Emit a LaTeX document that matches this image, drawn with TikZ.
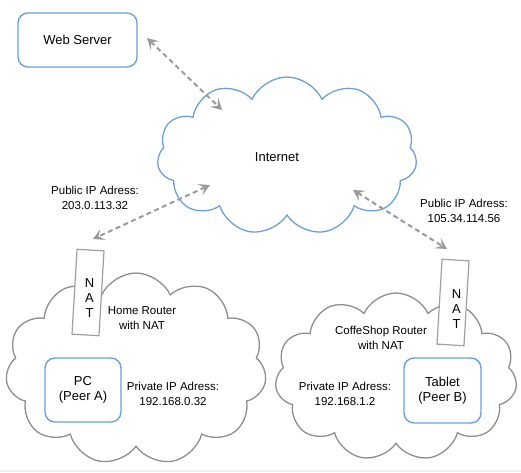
\documentclass[tikz,border=0pt]{standalone}
\usepackage{fontspec}
\setmainfont{Liberation Sans}
\usetikzlibrary{shapes.symbols,arrows.meta,calc}
\definecolor{boxblue}{HTML}{6CA0DC}
\definecolor{cloudgray}{HTML}{8E8E8E}
\definecolor{natgray}{HTML}{A0A0A0}
\definecolor{arrowgray}{HTML}{9A9A9A}
\begin{document}
\begin{tikzpicture}[x=1pt,y=-1pt,
  devbox/.style={draw=boxblue, line width=1.4pt, rounded corners=10pt, fill=white,
    align=center, font=\fontsize{13}{15}\selectfont, inner sep=0pt},
  netcloud/.style={cloud, draw=boxblue, line width=1.3pt, cloud puffs=11, cloud puff arc=130,
    cloud ignores aspect, inner sep=0pt, fill=white},
  lancloud/.style={cloud, draw=cloudgray, line width=1.3pt, cloud puffs=11, cloud puff arc=130,
    cloud ignores aspect, inner sep=0pt, fill=white},
  natbox/.style={draw=natgray, line width=1.2pt, fill=white, minimum width=27pt,
    minimum height=85pt, inner sep=0pt, rotate=-3.4},
  nattext/.style={align=center, font=\fontsize{13}{15}\selectfont},
  lbl/.style={align=center, font=\fontsize{11.5}{14.5}\selectfont},
  link/.style={draw=arrowgray, line width=2pt, dash pattern=on 5pt off 3.5pt,
    {Stealth[length=11pt,width=12pt,inset=5pt]}-{Stealth[length=11pt,width=12pt,inset=5pt]}}
]
\useasboundingbox (0,0) rectangle (521,472);
\fill[gray!12] (0,470) rectangle (521,472);

% clouds
\node[netcloud, minimum width=260pt, minimum height=158pt] (inet) at (287,156) {};
\node[font=\fontsize{13}{15}\selectfont] (inettext) at (277,157) {Internet};
\node[lancloud, minimum width=261pt, minimum height=192pt] (home) at (136,369) {};
\node[lancloud, minimum width=242pt, minimum height=168pt] (coffee) at (396,377) {};

% web server
\node[devbox, minimum width=119pt, minimum height=54pt] (ws) at (77.5,40) {Web Server};

% NAT boxes
\node[natbox] (hnat) at (88,292.5) {};
\node[nattext] (hnattext) at (89.5,298) {N\\A\\T};
\node[natbox] (cnat) at (453,302.5) {};
\node[nattext] (cnattext) at (456.5,309) {N\\A\\T};

% devices
\node[devbox, minimum width=76pt, minimum height=64pt] (pc) at (83,390) {PC\\(Peer A)};
\node[devbox, minimum width=77pt, minimum height=65pt] (tab) at (442.5,390.5) {Tablet\\(Peer B)};

% labels
\node[lbl] (hrouter) at (142,318) {Home Router\\with NAT};
\node[lbl] (hpriv) at (173,394) {Private IP Adress:\\192.168.0.32};
\node[lbl] (crouter) at (381,338) {CoffeShop Router\\with NAT};
\node[lbl] (cpriv) at (345,394) {Private IP Adress:\\192.168.1.2};
\node[lbl] (hpub) at (95,198) {Public IP Adress:\\203.0.113.32};
\node[lbl] (cpub) at (464,211) {Public IP Adress:\\105.34.114.56};

% connector ends
\coordinate (wsend) at (147,38);
\coordinate (inetA) at (222,110);
\coordinate (inetB) at (210,185);
\coordinate (hnatend) at (93,239);
\coordinate (inetC) at (353,190);
\coordinate (cnatend) at (447,249);

\draw[link] (wsend) -- (inetA);
\draw[link] (inetB) -- (hnatend);
\draw[link] (inetC) -- (cnatend);
\end{tikzpicture}
\end{document}
